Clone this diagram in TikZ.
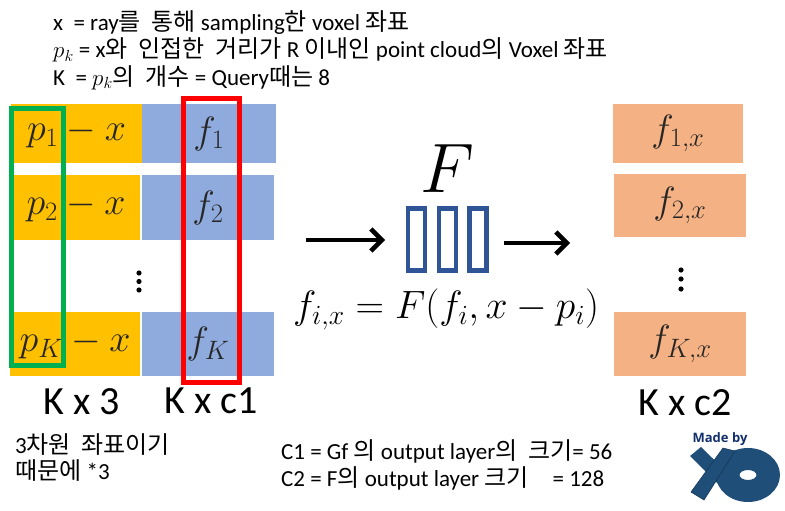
\documentclass[tikz,border=0pt]{standalone}
\usepackage{fix-cm}
\usepackage{fontspec}
\usepackage{amsmath}
\usepackage{tikz}
\usetikzlibrary{arrows.meta}
\setmainfont{Carlito}
\newfontfamily\krfont[WordSpace=2]{Noto Sans CJK KR}
\newfontfamily\logofont{Open Sans}
\newcommand{\kr}[1]{{\krfont\fontsize{24}{26}\selectfont #1}}
\definecolor{cellyellow}{HTML}{FFC000}
\definecolor{cellblue}{HTML}{8FAADC}
\definecolor{cellorange}{HTML}{F4B183}
\definecolor{boxgreen}{HTML}{00B050}
\definecolor{layerblue}{HTML}{2F5597}
\definecolor{logoblue}{HTML}{1F4E79}
\definecolor{logonavy}{HTML}{13306B}
\tikzset{
  cell/.style={inner sep=0pt,font=\fontsize{38}{42}\selectfont,text=black!85},
  note/.style={anchor=base west,inner sep=0pt,font=\fontsize{23}{26}\selectfont},
  size/.style={inner sep=0pt,font=\fontsize{40}{44}\selectfont},
  layer/.style={draw=layerblue,line width=4.5pt},
  bigarrow/.style={-{Straight Barb[length=11pt,width=22pt]},line width=4.5pt},
}
\begin{document}
\begin{tikzpicture}[x=1pt,y=-1pt]
  \useasboundingbox (0,0) rectangle (785,511);
  % notes on top
  \node[note] (n1) at (53,31) {x\ \ = ray\kr{를 통해} sampling\kr{한} voxel \kr{좌표}};
  \node[note] (n2) at (53,58) {$p_k$ = x\kr{와 인접한 거리가} R \kr{이내인} point cloud\kr{의} Voxel \kr{좌표}};
  \node[note] (n3) at (53,85) {K\ \ = $p_k$\kr{의 개수} = Query\kr{때는} 8};
  % input rows
  \node[cell,fill=cellyellow,minimum width=131pt,minimum height=59pt] (p1) at (76.5,133.5) {\raisebox{3pt}{$p_1-x$}};
  \node[cell,fill=cellblue,minimum width=134pt,minimum height=59pt] (f1) at (209,133.5) {$f_1$};
  \node[cell,fill=cellyellow,minimum width=128pt,minimum height=65pt] (p2) at (76,207.5) {$p_2-x$};
  \node[cell,fill=cellblue,minimum width=132pt,minimum height=65pt] (f2) at (208,207.5) {$f_2$};
  \node[cell,fill=cellyellow,minimum width=130pt,minimum height=64pt] (pK) at (75,344) {$p_K-x$};
  \node[cell,fill=cellblue,minimum width=132pt,minimum height=64pt] (fK) at (208,344) {$f_K$};
  \foreach \y in {273,281.5,290} \fill (139,\y) circle (2.6);
  \draw[boxgreen,line width=5pt] (11.5,108.5) rectangle (63.5,365);
  \draw[red,line width=5pt] (183.5,98.5) rectangle (239.5,382.5);
  \node[size] (s1) at (82,402) {K x 3};
  \node[size] (s2) at (211,401) {K x c1};
  % network
  \coordinate (a1) at (306,240);
  \coordinate (a2) at (385,240);
  \draw[bigarrow] (a1) -- (a2);
  \node[inner sep=0pt,font=\fontsize{70}{74}\selectfont] (F) at (447,169) {$F$};
  \foreach \x in {416.5,447.5,478} \draw[layer] (\x-8.5,208.5) rectangle (\x+8.5,270.5);
  \coordinate (a3) at (504,243);
  \coordinate (a4) at (570,243);
  \draw[bigarrow] (a3) -- (a4);
  \node[inner sep=0pt,font=\fontsize{39.5}{42}\selectfont] (eq) at (446,309) {$f_{i,x}=F(f_i,x-p_i)$};
  % output rows
  \node[cell,fill=cellorange,minimum width=130pt,minimum height=59pt] (o1) at (678,133.5) {$f_{1,x}$};
  \node[cell,fill=cellorange,minimum width=132pt,minimum height=63pt] (o2) at (680,205.5) {$f_{2,x}$};
  \node[cell,fill=cellorange,minimum width=132pt,minimum height=64pt] (oK) at (680,344) {$f_{K,x}$};
  \foreach \y in {270,279,289} \fill (681,\y) circle (2.6);
  \node[size] (s3) at (685,403) {K x c2};
  % notes below
  \node[note] (n4) at (15,453) {3\kr{차원 좌표이기}};
  \node[note] (n5) at (15,479) {\kr{때문에} *3};
  \node[note] (n6) at (281,459) {C1 = Gf \kr{의} output layer\kr{의 크기}= 56};
  \node[note] (n7) at (281,486) {C2 = F\kr{의} output layer \kr{크기}\hspace{24pt}= 128};
  % logo
  \node[inner sep=0pt,text=logonavy,font=\logofont\bfseries\fontsize{13}{15}\selectfont] (made) at (720,439) {Made by};
  \fill[logoblue,even odd rule] (748,475) ellipse [x radius=32,y radius=27] (748,475) ellipse [x radius=8.5,y radius=5];
  \fill[logoblue] (690,456) -- (701,447) -- (745,490) -- (733,499) -- cycle;
  \draw[logoblue!70!black,line width=.6pt,fill=logoblue] (691,492) -- (723,448) -- (735,451) -- (704,500) -- cycle;
\end{tikzpicture}
\end{document}
